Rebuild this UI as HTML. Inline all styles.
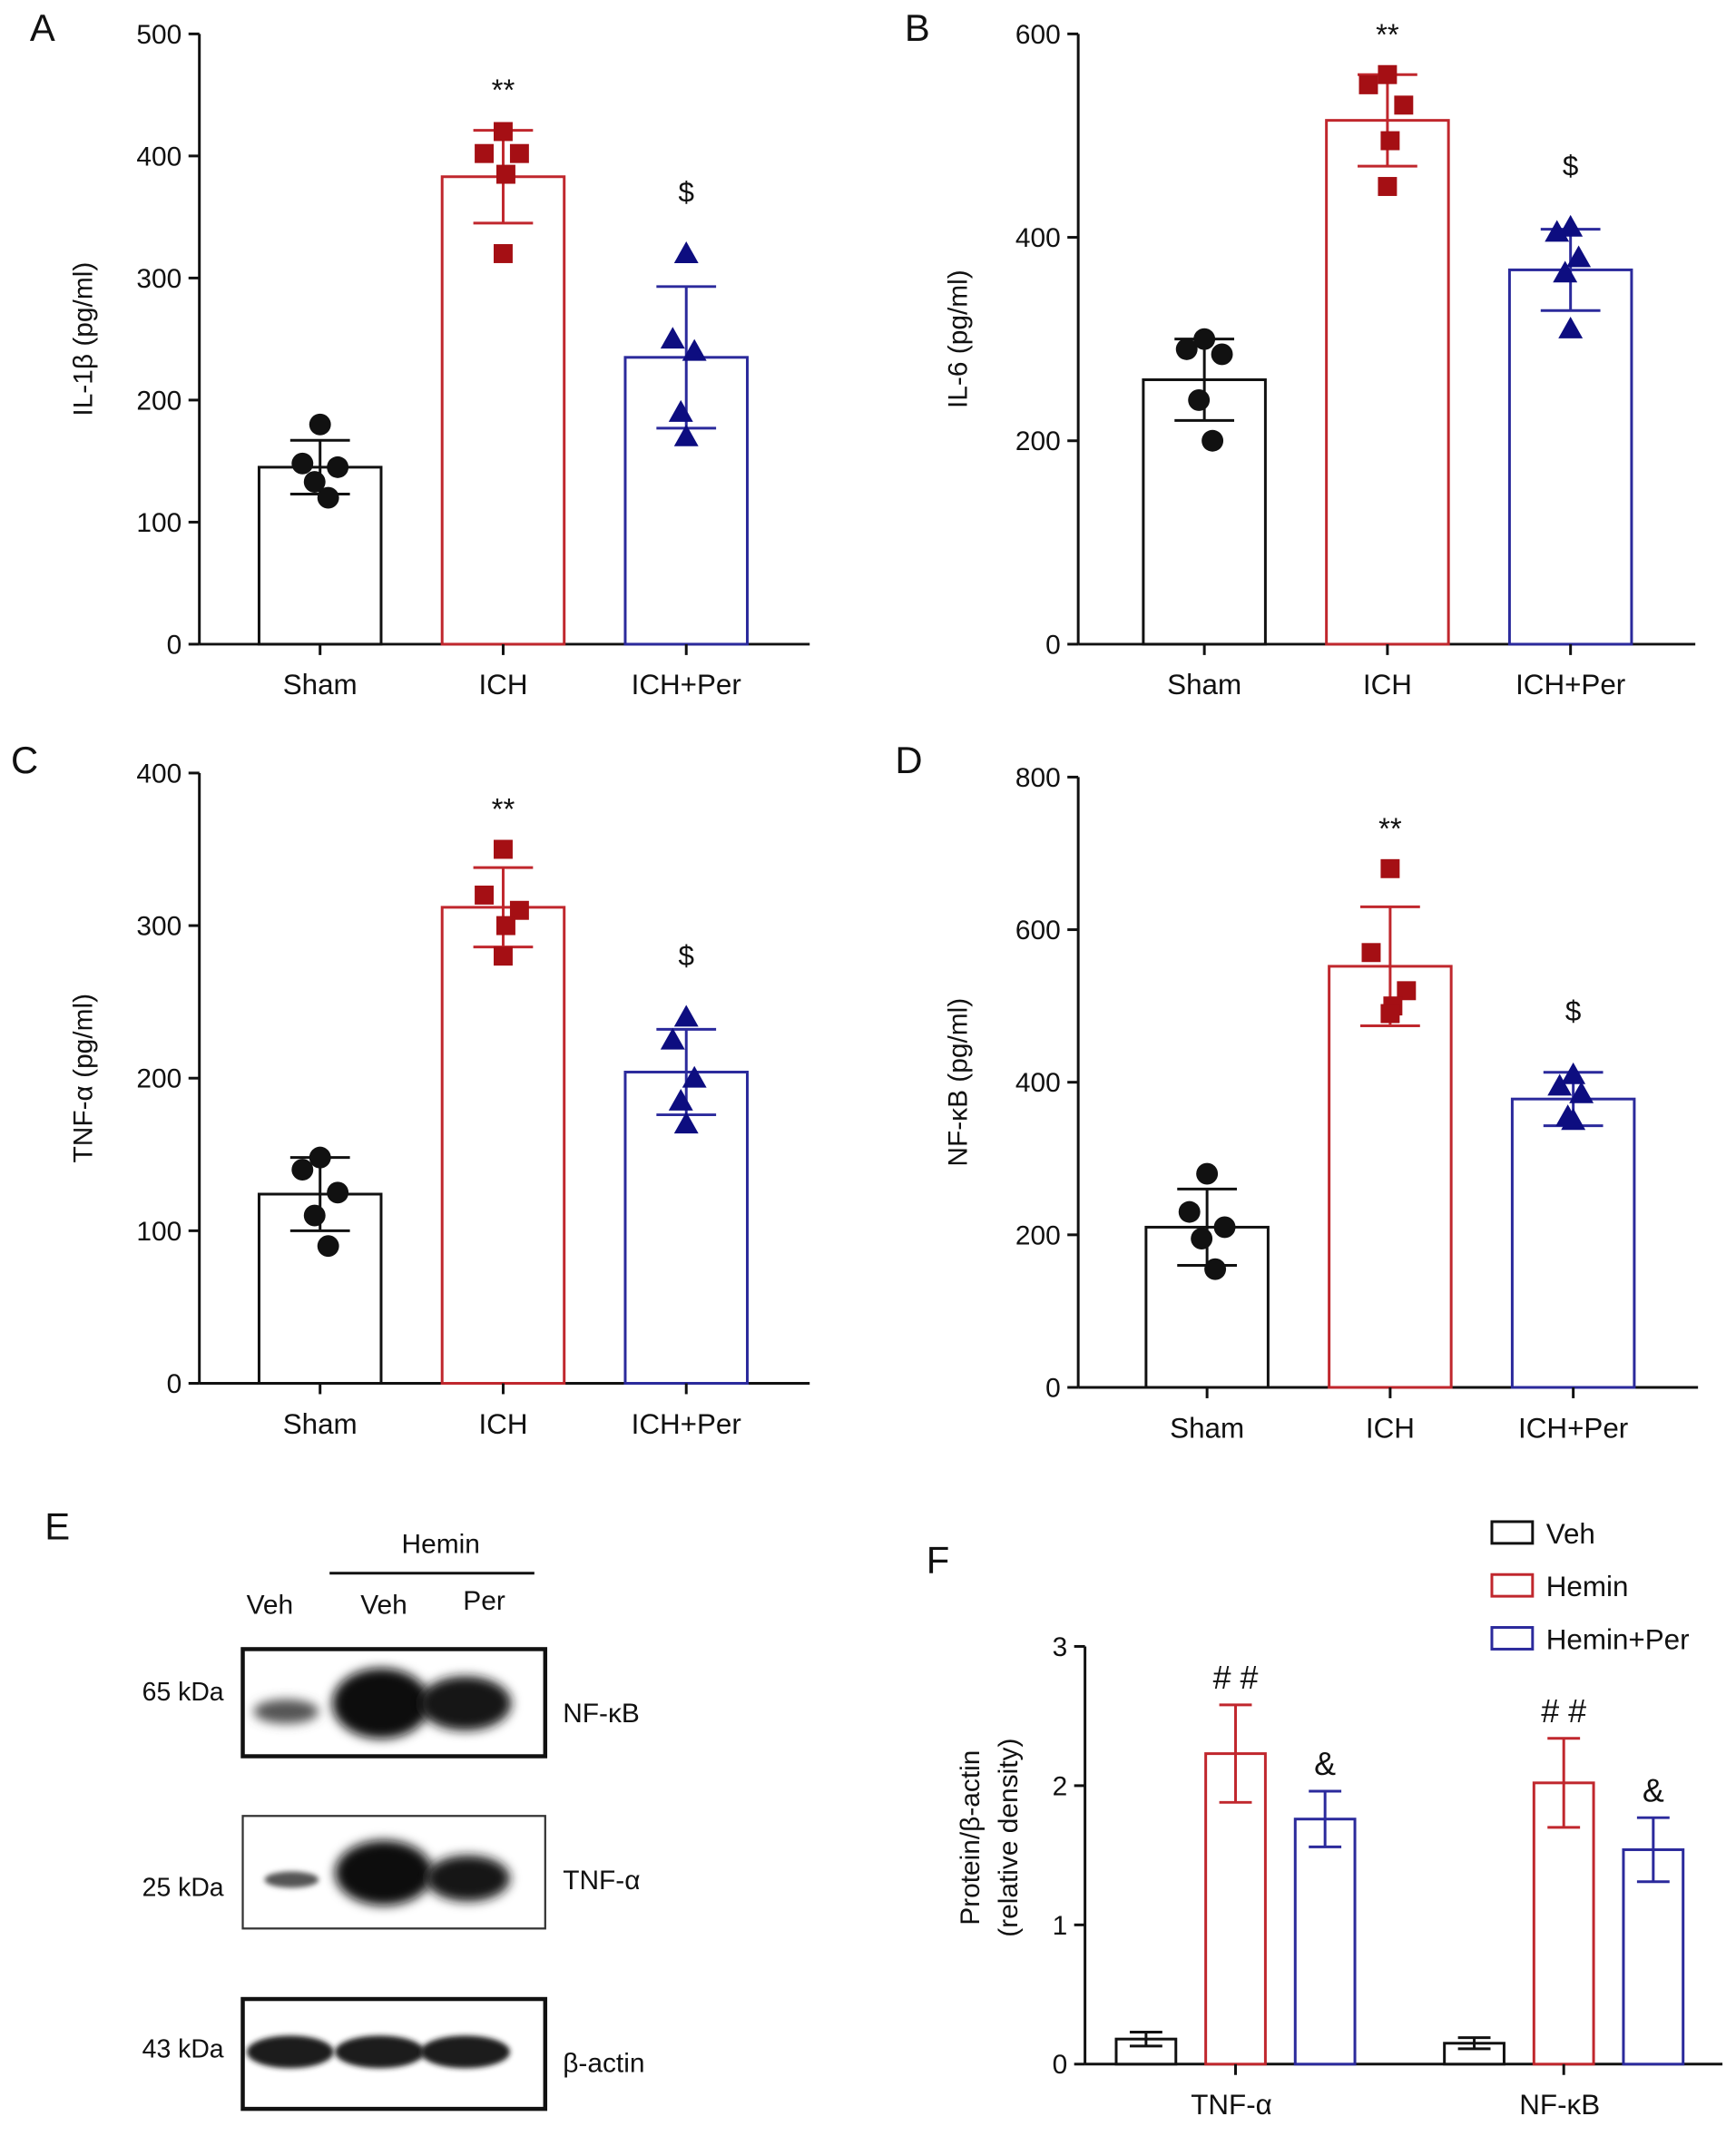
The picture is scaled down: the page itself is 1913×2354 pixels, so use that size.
<!DOCTYPE html>
<html><head><meta charset="utf-8"><style>
html,body{margin:0;padding:0;background:#fff}
svg{display:block}
text{font-family:"Liberation Sans",sans-serif;fill:#111}
</style></head><body>
<svg id="fig" width="1913" height="2354" viewBox="0 0 1280 1575" preserveAspectRatio="none" xmlns="http://www.w3.org/2000/svg">
<defs>
<filter id="blur" x="-30%" y="-60%" width="160%" height="220%"><feGaussianBlur stdDeviation="4"/></filter>
<filter id="blur2" x="-30%" y="-60%" width="160%" height="220%"><feGaussianBlur stdDeviation="2"/></filter>
</defs>
<g id="charts"></g>
<g id="blot">
<text x="33" y="1135" font-size="28">E</text>
<text x="325" y="1145" font-size="20" text-anchor="middle">Hemin</text>
<line x1="243" y1="1160" x2="394" y2="1160" stroke="#111" stroke-width="2"/>
<text x="199" y="1190" font-size="20" text-anchor="middle">Veh</text>
<text x="283" y="1190" font-size="20" text-anchor="middle">Veh</text>
<text x="357" y="1187" font-size="20" text-anchor="middle">Per</text>
<text x="165" y="1254" font-size="19" text-anchor="end">65 kDa</text>
<text x="165" y="1398" font-size="19" text-anchor="end">25 kDa</text>
<text x="165" y="1517" font-size="19" text-anchor="end">43 kDa</text>
<text x="415" y="1270" font-size="20">NF-κB</text>
<text x="415" y="1393" font-size="20">TNF-α</text>
<text x="415" y="1528" font-size="20">β-actin</text>
<rect x="179" y="1216" width="223" height="79" fill="#fff" stroke="#111" stroke-width="3"/>
<ellipse cx="211" cy="1262" rx="24" ry="9" fill="#555" filter="url(#blur)"/>
<ellipse cx="281" cy="1256" rx="36" ry="26" fill="#111" filter="url(#blur)"/>
<ellipse cx="343" cy="1256" rx="34" ry="20" fill="#151515" filter="url(#blur)"/>
<rect x="179" y="1339" width="223" height="83" fill="#fff" stroke="#333" stroke-width="1.5"/>
<ellipse cx="215" cy="1386" rx="20" ry="6" fill="#555" filter="url(#blur2)"/>
<ellipse cx="283" cy="1381" rx="36" ry="24" fill="#111" filter="url(#blur)"/>
<ellipse cx="345" cy="1385" rx="31" ry="17" fill="#161616" filter="url(#blur)"/>
<rect x="179" y="1474" width="223" height="81" fill="#fff" stroke="#111" stroke-width="3"/>
<ellipse cx="214" cy="1513" rx="32" ry="12" fill="#1a1a1a" filter="url(#blur2)"/>
<ellipse cx="280" cy="1513" rx="33" ry="12" fill="#1a1a1a" filter="url(#blur2)"/>
<ellipse cx="343" cy="1513" rx="33" ry="12" fill="#1a1a1a" filter="url(#blur2)"/>
</g>
</svg>
<script>
const groups=["Sham","ICH","ICH+Per"];
const aMeans=[145,383,235];const aSd=[22,38,58];
const aPts=[[180,148,145,133,120],[420,402,402,385,320],[320,250,240,190,170]];
const bMeans=[260,515,368];const bSd=[40,45,40];
const bPts=[[300,290,285,240,200],[560,550,530,495,450],[410,405,380,365,310]];
const cMeans=[124,312,204];const cSd=[24,26,28];
const cPts=[[148,140,125,110,90],[350,320,310,300,280],[240,225,200,185,170]];
const dMeans=[210,552,378];const dSd=[50,78,35];
const dPts=[[280,230,210,195,155],[680,570,520,500,490],[410,395,385,355,350]];
const fCats=["TNF-α","NF-κB"];const fSeries=["Veh","Hemin","Hemin+Per"];
const fMeans=[[0.18,2.23,1.76],[0.15,2.02,1.54]];
const fSd=[[0.05,0.35,0.2],[0.04,0.32,0.23]];
const aTicks=[0,100,200,300,400,500],bTicks=[0,200,400,600],cTicks=[0,100,200,300,400],dTicks=[0,200,400,600,800],fTicks=[0,1,2,3];

const NS="http://www.w3.org/2000/svg";const root=document.getElementById('charts');
function mk(t,a,p){const e=document.createElementNS(NS,t);for(const k in a)e.setAttribute(k,a[k]);(p||root).appendChild(e);return e;}
const colors=["#111","#c0272d","#2b2a9c"];const fills=["#111","#a50f14","#0d0d80"];
const jit=[[0,-13,13,-4,6],[0,-14,12,2,0],[0,-10,6,-4,0]];
function panel(o){
 const g=mk('g',{});
 const y=v=>o.y0-(v-0)/o.max*(o.y0-o.yTop);
 mk('line',{x1:o.ax,y1:o.yTop,x2:o.ax,y2:o.y0,stroke:'#111','stroke-width':2},g);
 mk('line',{x1:o.ax,y1:o.y0,x2:o.axEnd,y2:o.y0,stroke:'#111','stroke-width':2},g);
 o.ticks.forEach(t=>{mk('line',{x1:o.ax-8,y1:y(t),x2:o.ax,y2:y(t),stroke:'#111','stroke-width':2},g);
  const tx=mk('text',{x:o.ax-13,y:y(t)+7,'font-size':20,'text-anchor':'end'},g);tx.textContent=t;
  
  });
 const lbl=mk('text',{x:o.lx,y:o.ly,'font-size':28},g);lbl.textContent=o.letter;
 
 
 const yt=mk('text',{transform:`translate(${o.ytx},${(o.y0+o.yTop)/2}) rotate(-90)`,'font-size':20,'text-anchor':'middle'},g);yt.textContent=o.ytitle;
 
 
 groups.forEach((gn,i)=>{const cx=o.cx[i],m=o.means[i],s=o.sd[i];
  const r=mk('rect',{x:cx-45,y:y(m),width:90,height:o.y0-y(m),fill:'#fff',stroke:colors[i],'stroke-width':2},g);
  
  
  mk('line',{x1:cx,y1:o.y0,x2:cx,y2:o.y0+8,stroke:'#111','stroke-width':2},g);
  const xt=mk('text',{x:cx,y:o.y0+37,'font-size':21,'text-anchor':'middle'},g);xt.textContent=gn;
  
  
  const ec=colors[i];
  mk('line',{x1:cx,y1:y(m+s),x2:cx,y2:y(m-s),stroke:ec,'stroke-width':2},g);
  mk('line',{x1:cx-22,y1:y(m+s),x2:cx+22,y2:y(m+s),stroke:ec,'stroke-width':2},g);
  mk('line',{x1:cx-22,y1:y(m-s),x2:cx+22,y2:y(m-s),stroke:ec,'stroke-width':2},g);
  o.pts[i].forEach((v,j)=>{const px=cx+jit[i][j],py=y(v);let p;
   if(i==0)p=mk('circle',{cx:px,cy:py,r:8,fill:fills[0]},g);
   else if(i==1)p=mk('rect',{x:px-7,y:py-7,width:14,height:14,fill:fills[1]},g);
   else p=mk('polygon',{points:`${px},${py-9} ${px-9},${py+7} ${px+9},${py+7}`,fill:fills[2]},g);
   
   });
 });
 const s1=mk('text',{x:o.cx[1],y:y(Math.max(...o.pts[1],o.means[1]+o.sd[1]))-22,'font-size':22,'text-anchor':'middle',fill:'#333'},g);s1.textContent='**';
 
 
 const s2=mk('text',{x:o.cx[2],y:y(Math.max(...o.pts[2],o.means[2]+o.sd[2]))-38,'font-size':21,'text-anchor':'middle'},g);s2.textContent='$';
 
 
}
panel({name:'chart-il1b',letter:'A',lx:22,ly:30,ax:147,axEnd:597,y0:475,yTop:25,max:500,ticks:aTicks,cx:[236,371,506],means:aMeans,sd:aSd,pts:aPts,ytitle:'IL-1β (pg/ml)',ytx:68});
panel({name:'chart-il6',letter:'B',lx:667,ly:30,ax:795,axEnd:1250,y0:475,yTop:25,max:600,ticks:bTicks,cx:[888,1023,1158],means:bMeans,sd:bSd,pts:bPts,ytitle:'IL-6 (pg/ml)',ytx:713});
panel({name:'chart-tnfa',letter:'C',lx:8,ly:570,ax:147,axEnd:597,y0:1020,yTop:570,max:400,ticks:cTicks,cx:[236,371,506],means:cMeans,sd:cSd,pts:cPts,ytitle:'TNF-α (pg/ml)',ytx:68});
panel({name:'chart-nfkb',letter:'D',lx:660,ly:570,ax:795,axEnd:1252,y0:1023,yTop:573,max:800,ticks:dTicks,cx:[890,1025,1160],means:dMeans,sd:dSd,pts:dPts,ytitle:'NF-κB (pg/ml)',ytx:713});

// Panel F
(function(){
 const g=mk('g',{});
 const ax=800,y0=1522,yTop=1214,max=3,axEnd=1270;const y=v=>y0-v/max*(y0-yTop);
 mk('line',{x1:ax,y1:yTop,x2:ax,y2:y0,stroke:'#111','stroke-width':2},g);
 mk('line',{x1:ax,y1:y0,x2:axEnd,y2:y0,stroke:'#111','stroke-width':2},g);
 fTicks.forEach(t=>{mk('line',{x1:ax-8,y1:y(t),x2:ax,y2:y(t),stroke:'#111','stroke-width':2},g);
  const tx=mk('text',{x:ax-13,y:y(t)+7,'font-size':20,'text-anchor':'end'},g);tx.textContent=t;
  
  });
 const l=mk('text',{x:683,y:1160,'font-size':28},g);l.textContent='F';
 
 
 const t1=mk('text',{transform:`translate(722,1355) rotate(-90)`,'font-size':20,'text-anchor':'middle'},g);t1.textContent='Protein/β-actin';
 
 
 const t2=mk('text',{transform:`translate(750,1355) rotate(-90)`,'font-size':20,'text-anchor':'middle'},g);t2.textContent='(relative density)';
 
 
 const starts=[845,1087];
 fCats.forEach((c,ci)=>{
  fSeries.forEach((s,si)=>{const cx=starts[ci]+si*66,m=fMeans[ci][si],sd=fSd[ci][si];
   const r=mk('rect',{x:cx-22,y:y(m),width:44,height:y0-y(m),fill:'#fff',stroke:colors[si],'stroke-width':2},g);
   
   
   mk('line',{x1:cx,y1:y(m+sd),x2:cx,y2:y(m),stroke:colors[si],'stroke-width':2},g);
   mk('line',{x1:cx,y1:y(m),x2:cx,y2:Math.min(y(m-sd),y0),stroke:colors[si],'stroke-width':2},g);
   mk('line',{x1:cx-12,y1:y(m+sd),x2:cx+12,y2:y(m+sd),stroke:colors[si],'stroke-width':2},g);
   mk('line',{x1:cx-12,y1:y(m-sd),x2:cx+12,y2:y(m-sd),stroke:colors[si],'stroke-width':2},g);
   if(si>0){const st=mk('text',{x:cx,y:y(m+sd)-12,'font-size':24,'text-anchor':'middle','font-family':'Liberation Serif'},g);st.textContent=si==1?'# #':'&';
    
    }
  });
  const mid=starts[ci]+66;
  mk('line',{x1:mid,y1:y0,x2:mid,y2:y0+8,stroke:'#111','stroke-width':2},g);
  const xt=mk('text',{x:mid-3,y:y0+37,'font-size':21,'text-anchor':'middle'},g);xt.textContent=c;
  
  
 });
 fSeries.forEach((s,si)=>{const ly=1130+si*39;
  const lg=mk('g',{},g);
  mk('rect',{x:1100,y:ly-8,width:30,height:16,fill:'#fff',stroke:colors[si],'stroke-width':2},lg);
  const lt=mk('text',{x:1140,y:ly+8,'font-size':21},lg);lt.textContent=s;});
})();
</script>
</body></html>
